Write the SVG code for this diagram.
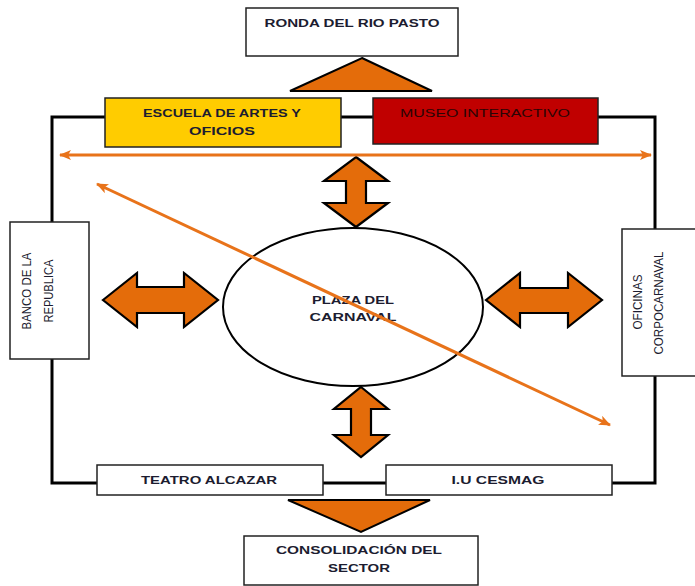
<svg xmlns="http://www.w3.org/2000/svg" width="695" height="586" viewBox="0 0 695 586">
<defs>
<style>
.box{fill:#fff;stroke:#222;stroke-width:1.5}
.frame{fill:none;stroke:#000;stroke-width:3}
.tri{fill:#E46C0A;stroke:#000;stroke-width:2;stroke-linejoin:miter}
.dbl{fill:#E46C0A;stroke:#000;stroke-width:2.2;stroke-linejoin:miter}
.ol{stroke:#E8731A;stroke-width:3;fill:none}
.t{font-family:"Liberation Sans",Arial,sans-serif;font-size:11px;font-weight:bold;fill:#1c1c30;text-anchor:middle}
.r{font-family:"Liberation Sans Narrow","Liberation Sans",Arial,sans-serif;font-size:12px;fill:#1c1c30;text-anchor:middle}
</style>
<marker id="ah" viewBox="0 0 12 10" refX="11" refY="5" markerWidth="12" markerHeight="10" markerUnits="userSpaceOnUse" orient="auto-start-reverse">
<path d="M0,0 L12,5 L0,10 L3,5 Z" fill="#E8731A"/>
</marker>
</defs>

<rect class="frame" x="52" y="117" width="603" height="366"/>

<g id="ronda">
<rect class="box" x="246" y="8" width="212" height="48"/>
<text class="t" x="352" y="27" textLength="175" lengthAdjust="spacingAndGlyphs">RONDA DEL RIO PASTO</text>
</g>
<g id="tri-top"><polygon class="tri" points="362,58 432,91 290,91"/></g>

<g id="escuela">
<rect x="105" y="98" width="236" height="49" fill="#FFCC00" stroke="#222" stroke-width="1.5"/>
<text class="t" x="222" y="117" textLength="158" lengthAdjust="spacingAndGlyphs">ESCUELA DE ARTES Y</text>
<text class="t" x="222" y="135" textLength="66" lengthAdjust="spacingAndGlyphs">OFICIOS</text>
</g>
<g id="museo">
<rect x="373" y="98" width="225" height="46" fill="#C00000" stroke="#222" stroke-width="1.5"/>
<text class="t" x="485" y="117" textLength="170" lengthAdjust="spacingAndGlyphs" style="fill:#2a0505;font-weight:normal">MUSEO INTERACTIVO</text>
</g>

<g id="banco">
<rect class="box" x="10" y="222" width="79" height="137"/>
<text class="r" transform="translate(31,291) rotate(-90)" textLength="77" lengthAdjust="spacingAndGlyphs">BANCO DE LA</text>
<text class="r" transform="translate(53,291) rotate(-90)" textLength="63" lengthAdjust="spacingAndGlyphs">REPUBLICA</text>
</g>
<g id="oficinas">
<rect class="box" x="622" y="229" width="80" height="147"/>
<text class="r" transform="translate(642,302) rotate(-90)" textLength="55" lengthAdjust="spacingAndGlyphs">OFICINAS</text>
<text class="r" transform="translate(663,303) rotate(-90)" textLength="103" lengthAdjust="spacingAndGlyphs">CORPOCARNAVAL</text>
</g>

<g id="plaza">
<ellipse cx="353" cy="307" rx="130" ry="79" fill="#fff" stroke="#000" stroke-width="2"/>
<text class="t" x="353" y="304" textLength="82" lengthAdjust="spacingAndGlyphs">PLAZA DEL</text>
<text class="t" x="353" y="321" textLength="87" lengthAdjust="spacingAndGlyphs">CARNAVAL</text>
</g>

<g id="teatro">
<rect class="box" x="97" y="465" width="226" height="30"/>
<text class="t" x="209" y="484" textLength="136" lengthAdjust="spacingAndGlyphs">TEATRO ALCAZAR</text>
</g>
<g id="cesmag">
<rect class="box" x="386" y="465" width="226" height="30"/>
<text class="t" x="498" y="484" textLength="93" lengthAdjust="spacingAndGlyphs">I.U CESMAG</text>
</g>
<g id="tri-bottom"><polygon class="tri" points="288,500 430,500 361,532"/></g>
<g id="consolidacion">
<rect class="box" x="244" y="536" width="234" height="49"/>
<text class="t" x="359" y="554" textLength="166" lengthAdjust="spacingAndGlyphs">CONSOLIDACIÓN DEL</text>
<text class="t" x="359" y="572" textLength="62" lengthAdjust="spacingAndGlyphs">SECTOR</text>
</g>

<g id="connectors">
<polygon class="dbl" points="356,157 388,181 366,181 366,203 388,203 356,227 324,203 346,203 346,181 324,181"/>
<polygon class="dbl" points="361,387 388,409 371,409 371,435 388,435 361,457 334,435 351,435 351,409 334,409"/>
<polygon class="dbl" points="103,300 137,273 137,287 184,287 184,273 218,300 184,327 184,313 137,313 137,327"/>
<polygon class="dbl" points="486,300 520,273 520,288 568,288 568,273 602,300 568,327 568,313 520,313 520,327"/>
<line class="ol" x1="60" y1="155" x2="651" y2="155" marker-start="url(#ah)" marker-end="url(#ah)"/>
<line class="ol" x1="97" y1="184" x2="610" y2="425" marker-start="url(#ah)" marker-end="url(#ah)"/>
</g>
</svg>
